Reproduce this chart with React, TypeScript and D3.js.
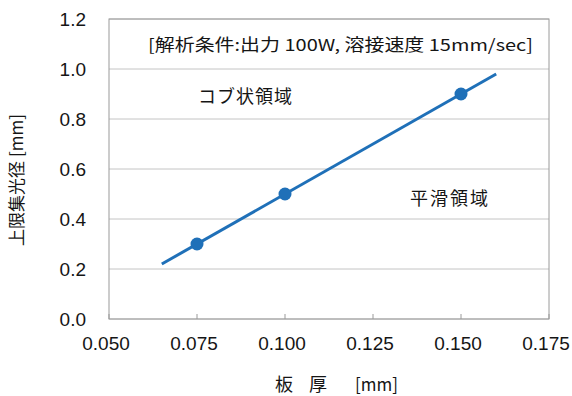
import React from "react";
import * as d3 from "d3";

const thickness = [0.075, 0.1, 0.15];
const diameter = [0.3, 0.5, 0.9];
const trendX = [0.065, 0.16];
const trendSlope = 8;
const trendIntercept = -0.3;
const xTicks = [0.05, 0.075, 0.1, 0.125, 0.15, 0.175];
const yTicks = [0, 0.2, 0.4, 0.6, 0.8, 1.0, 1.2];
const noteText = "[解析条件:出力 100W, 溶接速度 15mm/sec]";
const regionTop = "コブ状領域";
const regionBottom = "平滑領域";
const yLabel = "上限集光径 [mm]";

const W = 572, H = 396;
const M = { left: 109, right: 549, top: 19, bottom: 319 };
const CJK = "'Noto Sans CJK JP', 'Noto Sans', sans-serif";
const LAT = "'Liberation Sans', Arial, sans-serif";
const BLUE = "#1f70b8";
const INK = "#151515";

export default function App() {
  const x = d3.scaleLinear().domain([0.05, 0.175]).range([M.left, M.right]);
  const y = d3.scaleLinear().domain([0, 1.2]).range([M.bottom, M.top]);
  const trend = trendX.map((v) => [v, trendSlope * v + trendIntercept] as [number, number]);
  const line = d3.line<[number, number]>().x((d) => x(d[0])).y((d) => y(d[1]));
  return (
    <svg width={W} height={H} style={{ position: "absolute", left: 0, top: 0, background: "#fff" }}>
      <rect x={0} y={0} width={W} height={H} fill="#fff" />
      {yTicks.map((t) => (
        <line key={"g" + t} x1={M.left} x2={M.right} y1={y(t)} y2={y(t)} stroke="#c4c4c4" strokeWidth={1} />
      ))}
      <rect x={M.left} y={M.top} width={M.right - M.left} height={M.bottom - M.top} fill="none" stroke="#9a9a9a" strokeWidth={1} />
      {xTicks.map((t) => (
        <line key={"xt" + t} x1={x(t)} x2={x(t)} y1={M.bottom} y2={M.bottom - 5} stroke="#9a9a9a" />
      ))}
      {yTicks.map((t) => (
        <text key={"yl" + t} x={86} y={y(t)} dy="0.35em" textAnchor="end" fontFamily={LAT} fontSize={19} fill={INK}>
          {d3.format(".1f")(t)}
        </text>
      ))}
      {xTicks.map((t) => (
        <text key={"xl" + t} x={x(t) - 3} y={343} dy="0.35em" textAnchor="middle" fontFamily={LAT} fontSize={19} fill={INK}>
          {d3.format(".3f")(t)}
        </text>
      ))}
      <path d={line(trend) || ""} fill="none" stroke={BLUE} strokeWidth={3} />
      {thickness.map((t, i) => (
        <circle key={"p" + i} cx={x(t)} cy={y(diameter[i])} r={6.5} fill={BLUE} />
      ))}
      <text x={148} y={45} dy="0.35em" fontFamily={CJK} fontSize={16.5} textLength={385} lengthAdjust="spacingAndGlyphs" fill={INK}>
        {noteText}
      </text>
      <text x={198} y={97} dy="0.35em" fontFamily={CJK} fontSize={18} textLength={94} fill={INK}>
        {regionTop}
      </text>
      <text x={410} y={199} dy="0.35em" fontFamily={CJK} fontSize={18} textLength={78} fill={INK}>
        {regionBottom}
      </text>
      <text transform={`translate(17,180) rotate(-90)`} textAnchor="middle" dy="0.35em" fontFamily={CJK} fontSize={17} fill={INK}>
        {yLabel}
      </text>
      <text x={284} y={385} dy="0.35em" textAnchor="middle" fontFamily={CJK} fontSize={18} fill={INK}>板</text>
      <text x={318} y={385} dy="0.35em" textAnchor="middle" fontFamily={CJK} fontSize={18} fill={INK}>厚</text>
      <text x={355} y={385} dy="0.35em" fontFamily={CJK} fontSize={17} fill={INK}>[mm]</text>
    </svg>
  );
}
